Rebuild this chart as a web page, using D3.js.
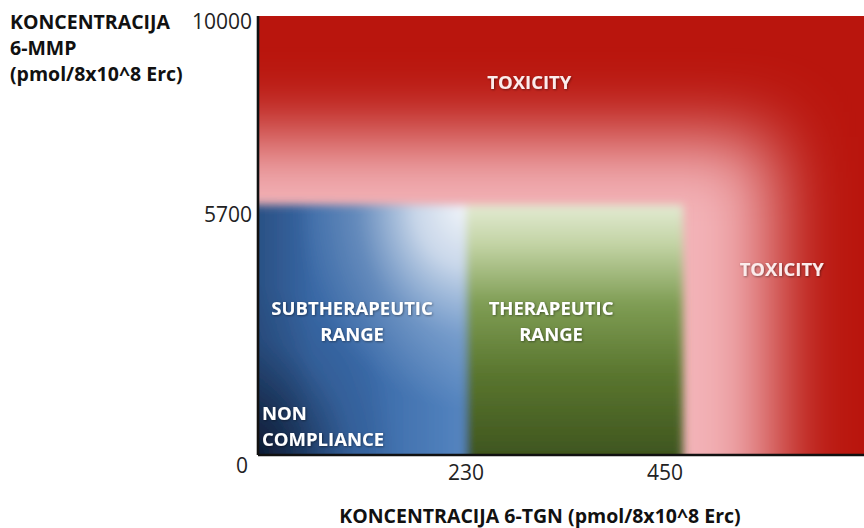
<!DOCTYPE html>
<html>
<head>
<meta charset="utf-8">
<script src="https://cdn.jsdelivr.net/npm/d3@7"></script>
<style>
  body { margin: 0; background: #fff; }
  svg { display: block; font-family: "Open Sans", Lato, sans-serif; }
</style>
</head>
<body>
<svg width="864" height="528"></svg>
<script>
// chart values
var xTicks = [230, 450];
var yTicks = [5700, 10000];
var xMax = 670, yMax = 10000;
var zoneNames = ["NON COMPLIANCE", "SUBTHERAPEUTIC RANGE", "THERAPEUTIC RANGE", "TOXICITY"];
var subRange = [0, 230];       // 6-TGN, subtherapeutic
var therRange = [230, 470];    // 6-TGN, therapeutic
var mmpLimit = 5700;           // 6-MMP, above = toxicity
var xTitle = "KONCENTRACIJA 6-TGN (pmol/8x10^8 Erc)";
var yTitle = ["KONCENTRACIJA", "6-MMP", "(pmol/8x10^8 Erc)"];

var svg = d3.select("svg"),
    mLeft = 258, mTop = 16, mRight = 864, mBottom = 455;

var x = d3.scaleLinear().domain([0, xMax]).range([mLeft, mRight]);
var y = d3.scaleLinear().domain([0, yMax]).range([mBottom, mTop]);

var defs = svg.append("defs");
defs.append("clipPath").attr("id", "plotclip")
    .append("rect").attr("x", mLeft).attr("y", mTop)
    .attr("width", mRight - mLeft).attr("height", mBottom - mTop);

defs.append("filter").attr("id", "bigblur")
    .attr("x", "-50%").attr("y", "-50%").attr("width", "200%").attr("height", "200%")
    .append("feGaussianBlur").attr("stdDeviation", 37);
defs.append("filter").attr("id", "soft")
    .attr("x", "-20%").attr("y", "-20%").attr("width", "140%").attr("height", "140%")
    .append("feGaussianBlur").attr("stdDeviation", 4);
var sh = defs.append("filter").attr("id", "shadow");
sh.append("feDropShadow").attr("dx", 0.8).attr("dy", 0.8).attr("stdDeviation", 0.8)
    .attr("flood-color", "#000").attr("flood-opacity", 0.45);

function grad(id, type, attrs, stops) {
    var g = defs.append(type).attr("id", id);
    Object.keys(attrs).forEach(function(k) { g.attr(k, attrs[k]); });
    stops.forEach(function(s) {
        g.append("stop").attr("offset", s[0]).attr("stop-color", s[1])
            .attr("stop-opacity", s[2] == null ? 1 : s[2]);
    });
}
grad("blueBase", "linearGradient", {x1: 0, y1: 0, x2: 1, y2: 0},
    [[0, "#3665a2"], [0.55, "#3a6aa8"], [1, "#5585c0"]]);
grad("blueGlow", "radialGradient", {cx: 1, cy: 0, r: 0.78},
    [[0, "#f2f5fa", 1], [0.3, "#dfe7f2", 0.85], [0.65, "#c6d6ea", 0.3], [1, "#c6d6ea", 0]]);
grad("blueDark", "radialGradient", {cx: 0, cy: 1, r: 0.7},
    [[0, "#0a1426", 1], [0.35, "#0f1e3a", 0.65], [0.7, "#15294a", 0.15], [1, "#15294a", 0]]);
grad("blueLeft", "linearGradient", {x1: 0, y1: 0, x2: 1, y2: 0},
    [[0, "#15294a", 0.4], [0.3, "#15294a", 0]]);
grad("greenFill", "linearGradient", {x1: 0, y1: 0, x2: 0, y2: 1},
    [[0, "#e3ebd3"], [0.15, "#c3d4a5"], [0.38, "#7f9d54"], [0.65, "#5a762f"], [1, "#3c521d"]]);

var plot = svg.append("g").attr("clip-path", "url(#plotclip)");

// toxicity background, red fading into pink round the lower-left zones
plot.append("rect").attr("x", mLeft).attr("y", mTop)
    .attr("width", mRight - mLeft).attr("height", mBottom - mTop).attr("fill", "#b9150d");
plot.append("rect")
    .attr("x", x(-150)).attr("y", y(7250))
    .attr("width", x(570) - x(-150)).attr("height", y(-3000) - y(7250))
    .attr("fill", "#f3b3b8").attr("filter", "url(#bigblur)");

// subtherapeutic + therapeutic zones
var zones = plot.append("g").attr("filter", "url(#soft)");
var bx = x(subRange[0]) - 10, bw = x(subRange[1]) - bx, by = y(mmpLimit), bh = y(0) - by + 10;
["blueBase", "blueGlow", "blueLeft", "blueDark"].forEach(function(id) {
    zones.append("rect").attr("x", bx).attr("y", by).attr("width", bw).attr("height", bh)
        .attr("fill", "url(#" + id + ")");
});
zones.append("rect")
    .attr("x", x(therRange[0])).attr("y", y(mmpLimit))
    .attr("width", x(therRange[1]) - x(therRange[0])).attr("height", y(0) - y(mmpLimit) + 10)
    .attr("fill", "url(#greenFill)");

// zone labels
var lab = svg.append("g").attr("fill", "#fff").attr("font-weight", "bold")
    .attr("font-size", 18.5).attr("filter", "url(#shadow)");
function label(lines, xv, yv, anchor, dx) {
    var t = lab.append("text").attr("text-anchor", anchor);
    lines.forEach(function(l, i) {
        t.append("tspan").attr("x", x(xv) + (dx || 0)).attr("y", y(yv) + i * 26).text(l);
    });
    return t;
}
label([zoneNames[3]], 300, 8340, "middle").attr("fill", "#fbecec");
label([zoneNames[3]], 579, 4070, "middle").attr("fill", "#fbecec");
var sub = zoneNames[1].split(" "), ther = zoneNames[2].split(" "), non = zoneNames[0].split(" ");
label(sub, (subRange[0] + subRange[1]) / 2 - 11, 3190, "middle");
label(ther, (therRange[0] + therRange[1]) / 2 - 26, 3190, "middle");
label(non, 0, 790, "start", 4);

// axes
var ax = svg.append("g").attr("stroke", "#111").attr("stroke-width", 2.6).attr("fill", "none");
ax.append("line").attr("x1", x(0)).attr("x2", x(0)).attr("y1", y(yMax)).attr("y2", y(0));
ax.append("line").attr("x1", x(0)).attr("x2", x(xMax)).attr("y1", y(0)).attr("y2", y(0));

var tk = svg.append("g").attr("font-size", 21).attr("fill", "#222");
tk.selectAll(".xt").data(xTicks).enter().append("text")
    .attr("x", function(d) { return x(d); }).attr("y", y(0) + 25)
    .attr("text-anchor", "middle").text(function(d) { return d; });
tk.selectAll(".yt").data(yTicks).enter().append("text")
    .attr("x", x(0) - 6).attr("y", function(d) { return y(d) + (d == yMax ? 13 : 17); })
    .attr("text-anchor", "end").text(function(d) { return d; });
tk.append("text").attr("x", x(0) - 10).attr("y", y(0) + 18).attr("text-anchor", "end").text("0");

// axis titles
var tt = svg.append("g").attr("font-weight", "bold").attr("font-size", 19.5).attr("fill", "#111");
tt.append("text").attr("x", (x(0) + x(xMax)) / 2 - 21).attr("y", 523)
    .attr("text-anchor", "middle").text(xTitle);
yTitle.forEach(function(l, i) {
    tt.append("text").attr("x", 10).attr("y", 29 + i * 26).text(l);
});
</script>
</body>
</html>
